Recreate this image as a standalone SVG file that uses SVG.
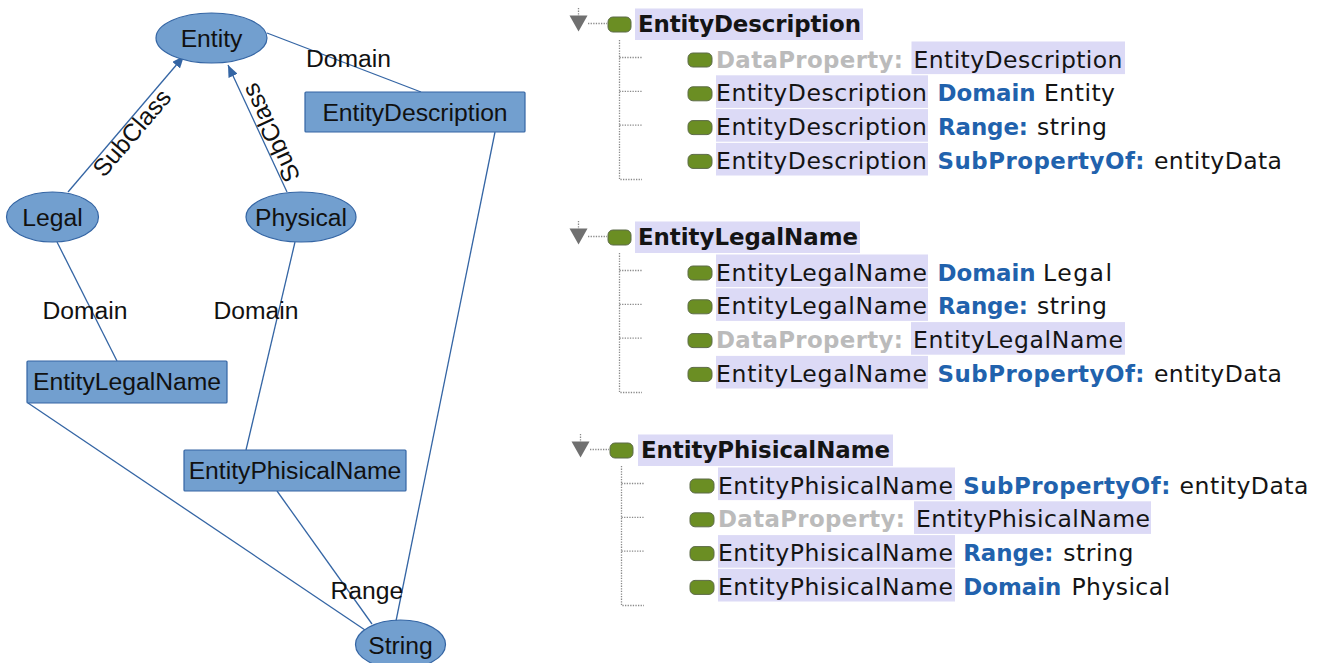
<svg xmlns="http://www.w3.org/2000/svg" width="1328" height="663" viewBox="0 0 1328 663">
  <style>
    .shape{fill:#729fcf;stroke:#3465a4;stroke-width:1.2}
    .lbl{font-family:"Liberation Sans",Arial,sans-serif;font-size:24.7px;fill:#111}
    .ctr{text-anchor:middle}
    .edge{stroke:#3465a4;stroke-width:1.3;fill:none}
    .t{font-family:"DejaVu Sans",Verdana,sans-serif;font-size:23.5px;fill:#141414}
    .hd{font-weight:bold;font-size:22.9px}
    .kw{fill:#2162ad;font-weight:bold;font-size:22.9px}
    .dp{fill:#bbbbbb;font-weight:bold;font-size:22.9px}
    .hl{fill:#dcdaf6}
    .ico{fill:#6b8e23;stroke:#5d6b48;stroke-width:1}
    .dot{stroke:#8a8a8a;stroke-width:1.3;stroke-dasharray:1.3 1.3;fill:none}
    .tri{fill:#707070}
  </style>
  <defs>
    <marker id="arrow" viewBox="0 0 12 10" refX="12" refY="5" markerWidth="12" markerHeight="10" markerUnits="userSpaceOnUse" orient="auto">
      <path d="M0,0 L12,5 L0,10 z" fill="#3465a4"/>
    </marker>
    <!-- bullet icon used for every tree entry -->
    <rect id="icon" class="ico" width="24" height="14" rx="5"/>
    <!-- expander triangle, header bullet and tree guide lines of one group -->
    <g id="skeleton">
      <path class="dot" d="M578.5,8 V16 M588,23.5 H607"/>
      <polygon class="tri" points="569.5,15.5 587.5,15.5 578.5,31.5"/>
      <rect class="ico" x="608" y="17" width="23" height="15" rx="5"/>
      <path class="dot" d="M619.5,40 V179.5 H642 M619.5,57.5 H642 M619.5,91.3 H642 M619.5,125.1 H642"/>
      <use href="#icon" x="688" y="53"/>
      <use href="#icon" x="688" y="86.8"/>
      <use href="#icon" x="688" y="120.6"/>
      <use href="#icon" x="688" y="154.4"/>
    </g>
  </defs>

  <rect width="1328" height="663" fill="#ffffff"/>

  <!-- connectors and their labels -->
  <g id="connectors">
    <line class="edge" x1="68" y1="192" x2="184" y2="56" marker-end="url(#arrow)"/>
    <line class="edge" x1="287" y1="192" x2="228" y2="65" marker-end="url(#arrow)"/>
    <line class="edge" x1="267" y1="33" x2="421" y2="92"/>
    <line class="edge" x1="57" y1="242" x2="117" y2="361"/>
    <line class="edge" x1="295" y1="242" x2="246" y2="450"/>
    <line class="edge" x1="28" y1="403" x2="365" y2="630"/>
    <line class="edge" x1="277" y1="491" x2="372" y2="624"/>
    <line class="edge" x1="495" y1="132" x2="396" y2="621"/>

    <text class="lbl" x="306" y="67">Domain</text>
    <text class="lbl ctr" transform="translate(131.5,132.5) rotate(-49.5)" y="8.8">SubClass</text>
    <text class="lbl ctr" transform="translate(270.5,133) rotate(-114.9)" y="8.8">SubClass</text>
    <text class="lbl" x="42.5" y="318.5">Domain</text>
    <text class="lbl" x="213.5" y="318.5">Domain</text>
    <text class="lbl" x="330.5" y="598.5">Range</text>
  </g>

  <!-- class and property nodes -->
  <g id="n-entity">
    <ellipse class="shape" cx="211.5" cy="38" rx="55.5" ry="25"/>
    <text class="lbl ctr" x="211.5" y="46.5">Entity</text>
  </g>
  <g id="n-legal">
    <ellipse class="shape" cx="52.5" cy="217" rx="46" ry="25"/>
    <text class="lbl ctr" x="52.5" y="225.5">Legal</text>
  </g>
  <g id="n-physical">
    <ellipse class="shape" cx="301" cy="217" rx="55" ry="25"/>
    <text class="lbl ctr" x="301" y="225.5">Physical</text>
  </g>
  <g id="n-string">
    <ellipse class="shape" cx="400.5" cy="644.5" rx="45" ry="24.5"/>
    <text class="lbl ctr" x="400.5" y="653.5">String</text>
  </g>
  <g id="n-entitydescription">
    <rect class="shape" x="305" y="92" width="220" height="40" rx="1"/>
    <text class="lbl ctr" x="415" y="120.5">EntityDescription</text>
  </g>
  <g id="n-entitylegalname">
    <rect class="shape" x="27" y="361" width="200" height="42" rx="1"/>
    <text class="lbl ctr" x="127" y="390">EntityLegalName</text>
  </g>
  <g id="n-entityphisicalname">
    <rect class="shape" x="184" y="450" width="222" height="41" rx="1"/>
    <text class="lbl ctr" x="295" y="478.5">EntityPhisicalName</text>
  </g>

  <!-- property tree: EntityDescription -->
  <g id="tree-entitydescription">
    <use href="#skeleton"/>
    <rect class="hl" x="635" y="8.5" width="228" height="31.5"/>
    <text class="t hd" x="638" y="32" textLength="223">EntityDescription</text>

    <rect class="hl" x="911.5" y="41.5" width="213.5" height="32.6"/>
    <text class="t dp" x="716" y="67.5" textLength="187">DataProperty:</text>
    <text class="t" x="913.5" y="67.5" textLength="209">EntityDescription</text>

    <rect class="hl" x="716" y="75.3" width="212" height="32.6"/>
    <text class="t" x="716" y="101.3" textLength="211">EntityDescription</text>
    <text class="t kw" x="937.5" y="101.3" textLength="98">Domain</text>
    <text class="t" x="1044" y="101.3" textLength="71">Entity</text>

    <rect class="hl" x="716" y="109.1" width="212" height="32.6"/>
    <text class="t" x="716" y="135.1" textLength="211">EntityDescription</text>
    <text class="t kw" x="938" y="135.1" textLength="90">Range:</text>
    <text class="t" x="1037" y="135.1" textLength="70">string</text>

    <rect class="hl" x="716" y="142.9" width="212" height="32.6"/>
    <text class="t" x="716" y="168.9" textLength="211">EntityDescription</text>
    <text class="t kw" x="937.5" y="168.9" textLength="207">SubPropertyOf:</text>
    <text class="t" x="1154" y="168.9" textLength="128">entityData</text>
  </g>

  <!-- property tree: EntityLegalName -->
  <g id="tree-entitylegalname" transform="translate(0,213)">
    <use href="#skeleton"/>
    <rect class="hl" x="635" y="8.5" width="225" height="31.5"/>
    <text class="t hd" x="638" y="32" textLength="220">EntityLegalName</text>

    <rect class="hl" x="716" y="41.5" width="212" height="32.6"/>
    <text class="t" x="716" y="67.5" textLength="211">EntityLegalName</text>
    <text class="t kw" x="937.5" y="67.5" textLength="98">Domain</text>
    <text class="t" x="1043" y="67.5" textLength="69">Legal</text>

    <rect class="hl" x="716" y="75.3" width="212" height="32.6"/>
    <text class="t" x="716" y="101.3" textLength="211">EntityLegalName</text>
    <text class="t kw" x="938" y="101.3" textLength="90">Range:</text>
    <text class="t" x="1037" y="101.3" textLength="70">string</text>

    <rect class="hl" x="911" y="109.1" width="214" height="32.6"/>
    <text class="t dp" x="716" y="135.1" textLength="187">DataProperty:</text>
    <text class="t" x="913" y="135.1" textLength="210">EntityLegalName</text>

    <rect class="hl" x="716" y="142.9" width="212" height="32.6"/>
    <text class="t" x="716" y="168.9" textLength="211">EntityLegalName</text>
    <text class="t kw" x="937.5" y="168.9" textLength="207">SubPropertyOf:</text>
    <text class="t" x="1154" y="168.9" textLength="128">entityData</text>
  </g>

  <!-- property tree: EntityPhisicalName -->
  <g id="tree-entityphisicalname" transform="translate(2,426)">
    <use href="#skeleton"/>
    <rect class="hl" x="636" y="8.5" width="255" height="31.5"/>
    <text class="t hd" x="639" y="32" textLength="249">EntityPhisicalName</text>

    <rect class="hl" x="716" y="41.5" width="237" height="32.6"/>
    <text class="t" x="716" y="67.5" textLength="235">EntityPhisicalName</text>
    <text class="t kw" x="961.3" y="67.5" textLength="207">SubPropertyOf:</text>
    <text class="t" x="1177.5" y="67.5" textLength="129">entityData</text>

    <rect class="hl" x="912" y="75.3" width="237" height="32.6"/>
    <text class="t dp" x="716" y="101.3" textLength="187">DataProperty:</text>
    <text class="t" x="914" y="101.3" textLength="234">EntityPhisicalName</text>

    <rect class="hl" x="716" y="109.1" width="237" height="32.6"/>
    <text class="t" x="716" y="135.1" textLength="235">EntityPhisicalName</text>
    <text class="t kw" x="961.3" y="135.1" textLength="90">Range:</text>
    <text class="t" x="1061.3" y="135.1" textLength="70">string</text>

    <rect class="hl" x="716" y="142.9" width="237" height="32.6"/>
    <text class="t" x="716" y="168.9" textLength="235">EntityPhisicalName</text>
    <text class="t kw" x="961.3" y="168.9" textLength="98">Domain</text>
    <text class="t" x="1069.5" y="168.9" textLength="98.5">Physical</text>
  </g>
</svg>
